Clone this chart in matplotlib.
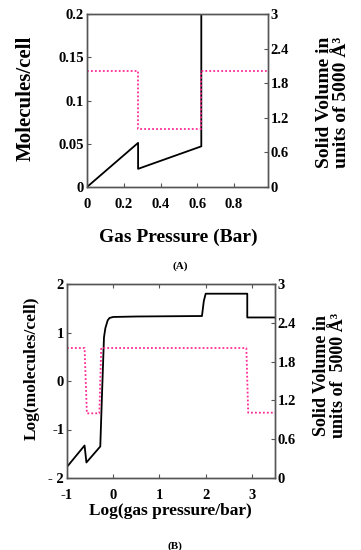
import matplotlib
matplotlib.use("Agg")
import matplotlib.pyplot as plt

plt.rcParams['font.family'] = ['Liberation Serif', 'DejaVu Serif']
plt.rcParams['font.weight'] = 'bold'
plt.rcParams['axes.unicode_minus'] = False

# Panel A data
a_pressure = [0.0, 0.278, 0.278, 0.622, 0.622]
a_molecules = [0.0, 0.051, 0.021, 0.047, 0.25]
a_vol_x = [0.0, 0.278, 0.278, 0.622, 0.622, 0.985]
a_vol_y = [2.02, 2.02, 1.01, 1.01, 2.02, 2.02]
a_xticks = [0, 0.2, 0.4, 0.6, 0.8]
a_xticklabels = ['0', '0.2', '0.4', '0.6', '0.8']
a_yticks = [0, 0.05, 0.1, 0.15, 0.2]
a_yticklabels = ['0', '0.05', '0.1', '0.15', '0.2']

# Panel B data
b_logp = [-1.0, -0.62, -0.58, -0.28, -0.24, -0.2, -0.17, -0.12, -0.08, 0.0, 0.5, 1.92, 1.96, 2.0, 2.90, 2.90, 3.5]
b_logm = [-1.77, -1.33, -1.68, -1.35, -0.2, 0.9, 1.09, 1.25, 1.30, 1.32, 1.33, 1.34, 1.65, 1.80, 1.80, 1.31, 1.31]
b_vol_x = [-1.0, -0.62, -0.57, -0.30, -0.26, 2.88, 2.92, 3.5]
b_vol_y = [2.01, 2.01, 1.0, 1.0, 2.01, 2.01, 1.01, 1.01]
b_xticks = [-1, 0, 1, 2, 3]
b_yticks = [-2, -1, 0, 1, 2]
b_yticklabels = ['- 2', '-1', '0', '1', '2']

vol_ticks = [0, 0.6, 1.2, 1.8, 2.4, 3]
vol_ticklabels = ['0', '0.6', '1.2', '1.8', '2.4', '3']

pink = '#ff2a95'
spine_col = '#555555'
tick_fs = 10.5

W, H = 361, 550
fig = plt.figure(figsize=(W / 100, H / 100), dpi=100)


def style(ax):
    for s in ax.spines.values():
        s.set_color(spine_col)
        s.set_linewidth(1.0)
    ax.tick_params(direction='in', length=3, width=0.8, color=spine_col,
                   labelsize=tick_fs, pad=2)
    for lab in ax.get_xticklabels() + ax.get_yticklabels():
        lab.set_fontweight('bold')


# ---------- Panel A ----------
axA = fig.add_axes([87 / W, 1 - 187 / H, (268 - 87) / W, (187 - 14) / H])
axA.plot(a_pressure, a_molecules, color='black', lw=1.3)
axA.set_xlim(0, 0.985)
axA.set_ylim(0, 0.2)
axA.set_xticks(a_xticks)
axA.set_xticklabels(a_xticklabels)
axA.set_yticks(a_yticks)
axA.set_yticklabels(a_yticklabels)
style(axA)
axA.tick_params(axis='x', pad=8)
axA2 = axA.twinx()
axA2.plot(a_vol_x, a_vol_y, color=pink, lw=1.3, ls=(0, (1, 1.2)))
axA2.set_ylim(0, 3)
axA2.set_yticks(vol_ticks)
axA2.set_yticklabels(vol_ticklabels)
style(axA2)

fig.text(26 / W, 1 - 98 / H, 'Molecules/cell', rotation=90, ha='center', va='center',
         fontsize=15, fontweight='bold')
fig.text(333 / W, 1 - 102 / H, 'Solid Volume in\nunits of 5000 Å³', rotation=90,
         ha='center', va='center', fontsize=14, fontweight='bold', linespacing=1.0)
fig.text(178 / W, 1 - 237 / H, 'Gas Pressure (Bar)', ha='center', va='center',
         fontsize=14, fontweight='bold')
fig.text(180 / W, 1 - 266 / H, '(A)', ha='center', va='center', fontsize=8,
         fontweight='bold')

# ---------- Panel B ----------
axB = fig.add_axes([67 / W, 1 - 478 / H, (275 - 67) / W, (478 - 284) / H])
axB.plot(b_logp, b_logm, color='black', lw=1.3)
axB.set_xlim(-1.0, 3.5)
axB.set_ylim(-2, 2)
axB.set_xticks(b_xticks)
axB.set_yticks(b_yticks)
axB.set_yticklabels(b_yticklabels)
style(axB)
axB.tick_params(top=True)
axB.tick_params(axis='x', pad=8)
axB2 = axB.twinx()
axB2.plot(b_vol_x, b_vol_y, color=pink, lw=1.3, ls=(0, (1, 1.2)))
axB2.set_ylim(0, 3)
axB2.set_yticks(vol_ticks)
axB2.set_yticklabels(vol_ticklabels)
style(axB2)

fig.text(32 / W, 1 - 368 / H, 'Log(molecules/cell)', rotation=90, ha='center', va='center',
         fontsize=12.5, fontweight='bold')
fig.text(330 / W, 1 - 375 / H, 'Solid Volume in\nunits of  5000 Å³', rotation=90,
         ha='center', va='center', fontsize=13, fontweight='bold', linespacing=1.0)
fig.text(170 / W, 1 - 511 / H, 'Log(gas pressure/bar)', ha='center', va='center',
         fontsize=12.5, fontweight='bold')
fig.text(175 / W, 1 - 546 / H, '(B)', ha='center', va='center', fontsize=8,
         fontweight='bold')

fig.savefig('out.png', dpi=100)
